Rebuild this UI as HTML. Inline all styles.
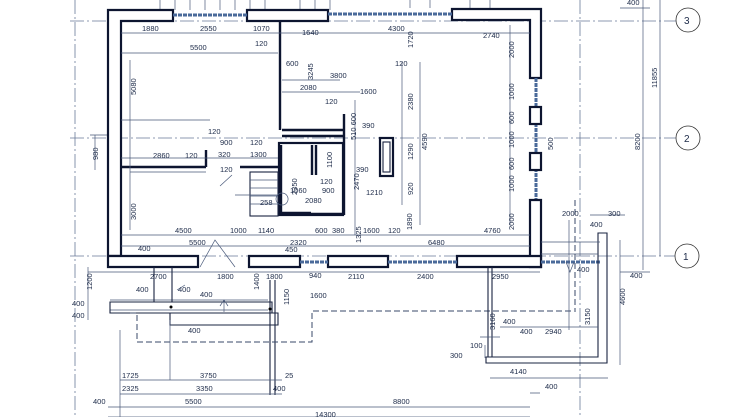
<!DOCTYPE html>
<html><head><meta charset="utf-8"><style>
html,body{margin:0;padding:0;background:#fff;}
svg{display:block;}
text{font-family:"Liberation Sans",sans-serif;font-size:7.5px;fill:#1c2a48;}
.w{fill:none;stroke:#0d1530;stroke-width:2.4;}
.wf{fill:#fff;stroke:#0d1530;stroke-width:2.2;}
.d{stroke:#4a5a7a;stroke-width:0.7;fill:none;}
.ax{stroke:#6a7a98;stroke-width:0.8;stroke-dasharray:14 3 2 3;fill:none;}
.ds{stroke:#3a4a6a;stroke-width:1;stroke-dasharray:6 3;fill:none;}
.win{stroke:#4a6a9a;stroke-width:3;stroke-dasharray:4 1;fill:none;}
.t{stroke:#1a2440;stroke-width:1.1;fill:none;}
</style></head><body>
<svg width="740" height="417" viewBox="0 0 740 417" xmlns="http://www.w3.org/2000/svg">
<!-- axes -->
<path class="ax" d="M70 21H676 M70 138H676 M70 256H676"/>
<path class="ax" d="M75 0V417 M580 0V417"/>
<circle cx="688" cy="20" r="12" fill="#fff" stroke="#333" stroke-width="0.8"/><text x="684" y="24" style="font-size:10px">3</text>
<circle cx="688" cy="138" r="12" fill="#fff" stroke="#333" stroke-width="0.8"/><text x="684" y="142" style="font-size:10px">2</text>
<circle cx="687" cy="256" r="12" fill="#fff" stroke="#333" stroke-width="0.8"/><text x="683" y="260" style="font-size:10px">1</text>
<!-- right dims -->
<path class="d" d="M643 0V270 M660 0V256 M620 8H650 M620 272H650 M95 135V170 M90 135H120"/>
<text transform="translate(657 88) rotate(-90)">11855</text>
<text transform="translate(640 150) rotate(-90)">8200</text>
<text x="627" y="5">400</text><text x="630" y="278">400</text>
<text transform="translate(98 160) rotate(-90)">980</text>
<!-- top ladder -->
<path class="d" d="M160 0V10 M175 0V10 M190 0V10 M205 0V10 M220 0V10 M235 0V10 M250 0V10 M265 0V10 M300 0V10 M315 0V10 M330 0V10 M410 0V8 M430 0V8 M470 0V8 M490 0V8"/>
<!-- outer walls -->
<path class="wf" d="M108 10H173V21H121V256H108Z"/>
<path class="wf" d="M247 10H328V21H247Z"/>
<path class="wf" d="M452 9H541V78H530V20H452Z"/>
<path class="win" d="M173 15H247 M328 14H452 M536 78V267"/>
<rect class="wf" x="530" y="107" width="11" height="17"/>
<rect class="wf" x="530" y="153" width="11" height="17"/>
<path class="wf" d="M530 200H541V267H530Z"/>
<path class="wf" d="M108 256H198V267H108Z M249 256H300V267H249Z M328 256H388V267H328Z M457 256H541V267H457Z"/>
<path class="win" d="M300 262H328 M388 262H457 M541 262H600"/>
<!-- interior walls -->
<path class="w" d="M121 167H206 M240 167H278 M280 21V130 M282 130H343 M282 136H343 M344 114V215 M206 150V167"/>
<rect class="wf" x="279" y="143" width="64" height="72"/>
<path class="w" d="M312 145V175 M316 145V175 M311 214H333"/>
<rect x="280" y="145" width="30" height="68" fill="#fff"/>
<path class="w" d="M281 145V213H311 M333 214H342"/>
<rect class="wf" x="380" y="138" width="13" height="38"/>
<rect class="t" x="383" y="142" width="7" height="30"/>
<rect class="t" x="250" y="172" width="28" height="44"/>
<path class="d" d="M250 180H278 M250 188H278 M250 196H278 M250 204H278 M235 195H278"/>
<path class="d" d="M220 186L232 175 M200 267L215 240L235 267 M282 193a6 6 0 1 0 0.1 0"/>
<!-- dimension lines interior -->
<path class="d" d="M121 33H530 M121 53H278 M282 80H340 M282 92H360 M121 235H530 M121 246H530 M121 158H278 M130 172H206 M121 120H210 M402 62V205 M420 62V225 M510 25V225 M355 100V235 M130 60V230"/>
<text x="142" y="31">1880</text><text x="200" y="31">2550</text><text x="253" y="31">1070</text><text x="302" y="35">1640</text><text x="388" y="31">4300</text><text x="483" y="38">2740</text>
<text x="255" y="46">120</text><text x="190" y="50">5500</text><text x="286" y="66">600</text><text x="330" y="78">3800</text><text x="300" y="90">2080</text><text x="360" y="94">1600</text><text x="325" y="104">120</text><text x="395" y="66">120</text><text x="362" y="128">390</text><text x="356" y="172">390</text>
<text transform="translate(136 95) rotate(-90)">5080</text><text transform="translate(313 80) rotate(-90)">3245</text><text transform="translate(413 48) rotate(-90)">1720</text><text transform="translate(413 110) rotate(-90)">2380</text><text transform="translate(427 150) rotate(-90)">4590</text><text transform="translate(413 160) rotate(-90)">1290</text><text transform="translate(413 195) rotate(-90)">920</text><text transform="translate(514 58) rotate(-90)">2000</text><text transform="translate(514 100) rotate(-90)">1000</text><text transform="translate(514 124) rotate(-90)">600</text><text transform="translate(514 148) rotate(-90)">1000</text><text transform="translate(514 170) rotate(-90)">600</text><text transform="translate(514 192) rotate(-90)">1000</text><text transform="translate(514 230) rotate(-90)">2000</text><text transform="translate(553 150) rotate(-90)">500</text>
<text transform="translate(356 140) rotate(-90)">510 600</text><text transform="translate(359 190) rotate(-90)">2470</text><text transform="translate(361 243) rotate(-90)">1325</text><text transform="translate(412 230) rotate(-90)">1890</text><text transform="translate(297 195) rotate(-90)">2350</text><text transform="translate(332 168) rotate(-90)">1100</text><text transform="translate(136 220) rotate(-90)">3000</text>
<text x="208" y="134">120</text><text x="220" y="145">900</text><text x="250" y="145">120</text><text x="153" y="158">2860</text><text x="185" y="158">120</text><text x="218" y="157">320</text><text x="250" y="157">1300</text><text x="220" y="172">120</text><text x="260" y="205">258</text><text x="290" y="193">1060</text><text x="320" y="184">120</text><text x="322" y="193">900</text><text x="305" y="203">2080</text><text x="366" y="195">1210</text>
<text x="175" y="233">4500</text><text x="230" y="233">1000</text><text x="258" y="233">1140</text><text x="315" y="233">600</text><text x="332" y="233">380</text><text x="363" y="233">1600</text><text x="388" y="233">120</text><text x="484" y="233">4760</text>
<text x="189" y="245">5500</text><text x="290" y="245">2320</text><text x="428" y="245">6480</text><text x="138" y="251">400</text><text x="285" y="252">450</text>
<!-- below house dims -->
<path class="d" d="M88 272H540 M88 267V320 M110 300H268 M110 310H268"/>
<text x="150" y="279">2700</text><text x="217" y="279">1800</text><text x="266" y="279">1800</text><text x="309" y="278">940</text><text x="348" y="279">2110</text><text x="417" y="279">2400</text><text x="492" y="279">2950</text>
<text transform="translate(92 290) rotate(-90)">1200</text><text x="136" y="292">400</text><text x="178" y="292">400</text><text x="200" y="297">400</text><text x="72" y="306">400</text><text x="72" y="318">400</text><text x="310" y="298">1600</text><text transform="translate(289 305) rotate(-90)">1150</text><text transform="translate(259 290) rotate(-90)">1400</text><text x="188" y="333">400</text>
<!-- porch -->
<path class="t" d="M110 302H272V313H110Z M170 313H278V325H170Z M154 267V302 M172 267V302 M270 280V395 M275 280V395"/>
<path class="ds" d="M130 313H137V342H312V311H573"/>
<circle cx="171" cy="307" r="1.5" fill="#000"/><circle cx="270" cy="309" r="1.5" fill="#000"/>
<path class="d" d="M224 312V300 M220 306L224 300L228 306 M177 290L185 285"/>
<!-- bottom dims -->
<path class="d" d="M120 380H282 M120 394H282 M108 407H530 M108 417H530 M170 320V380 M120 330V417"/>
<text x="122" y="378">1725</text><text x="200" y="378">3750</text><text x="285" y="378">25</text><text x="122" y="391">2325</text><text x="196" y="391">3350</text><text x="273" y="391">400</text><text x="93" y="404">400</text><text x="185" y="404">5500</text><text x="393" y="404">8800</text><text x="315" y="417">14300</text>
<!-- right terrace -->
<path class="t" d="M488 267V357 M492 267V357 M486 357H598V233H607V363H486Z"/>
<path class="d" d="M541 242H600 M541 254H598 M590 215H625 M485 345V358 M480 337H500 M490 378H608 M530 393H540 M500 327H598 M569 220V330 M620 240V365"/>
<path class="ds" d="M575 200V312"/>
<path class="d" d="M566 262L570 272L574 262"/>
<text x="562" y="216">2000</text><text x="608" y="216">300</text><text x="590" y="227">400</text><text x="577" y="272">400</text><text x="503" y="324">400</text><text x="520" y="334">400</text><text x="545" y="334">2940</text><text x="470" y="348">100</text><text x="450" y="358">300</text><text x="510" y="374">4140</text><text x="545" y="389">400</text>
<text transform="translate(495 330) rotate(-90)">3160</text><text transform="translate(590 325) rotate(-90)">3150</text><text transform="translate(625 305) rotate(-90)">4600</text>
</svg>
</body></html>
